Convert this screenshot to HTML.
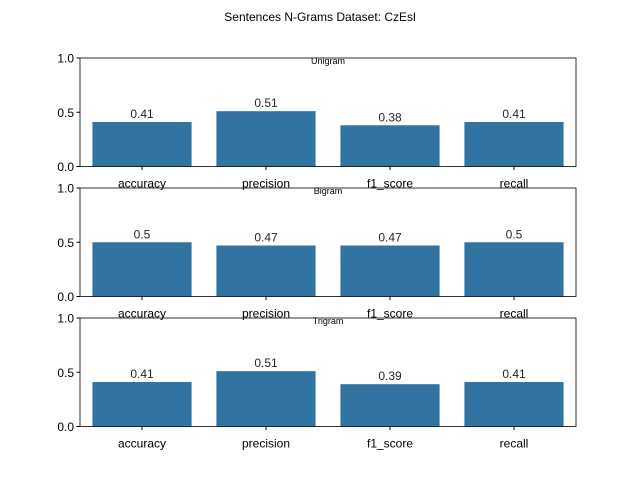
<!DOCTYPE html>
<html><head><meta charset="utf-8">
<style>body{margin:0;background:#fff}svg{display:block;font-family:"Liberation Sans","DejaVu Sans",sans-serif}</style>
</head><body>
<svg id="chart" width="640" height="480">
<text x="320" y="21" text-anchor="middle" font-size="12">Sentences N-Grams Dataset: CzEsl</text>
</svg>
<script>
const categories = ["accuracy","precision","f1_score","recall"];
const panelTitles = ["Unigram","Bigram","Trigram"];
const unigramValues = [0.41,0.51,0.38,0.41];
const bigramValues = [0.5,0.47,0.47,0.5];
const trigramValues = [0.41,0.51,0.39,0.41];
const yTicks = [0,0.5,1];
const yTickLabels = ["0.0","0.5","1.0"];
const series = [unigramValues,bigramValues,trigramValues];
const NS="http://www.w3.org/2000/svg";
const svg=document.getElementById('chart');
function mk(t,a,p){const e=document.createElementNS(NS,t);for(const k in a)e.setAttribute(k,a[k]);(p||svg).appendChild(e);return e;}
const L=80,R=576,tops=[58,188,318],H=108.5;
series.forEach((vals,pi)=>{
  const top=tops[pi],bot=top+H;
  const g=mk('g',{});
  
  
  const y=v=>bot-v*H;
  const slot=(R-L)/categories.length;
  const x=i=>L+slot*(i+0.5);
  vals.forEach((v,i)=>{
    const b=mk('rect',{x:x(i)-slot*0.4,y:y(v),width:slot*0.8,height:bot-y(v),fill:'#3274a1'},g);
    
    
    const t=mk('text',{x:x(i),y:y(v)-4,'text-anchor':'middle','font-size':12,fill:'#262626'},g);
    t.textContent=String(v);
    
    
    mk('line',{x1:x(i),x2:x(i),y1:bot,y2:bot+3.5,stroke:'#000'},g);
    const c=mk('text',{x:x(i),y:bot+21,'text-anchor':'middle','font-size':12},g);
    c.textContent=categories[i];
    
    
  });
  yTicks.forEach((v,i)=>{
    mk('line',{x1:L-3.5,x2:L,y1:y(v),y2:y(v),stroke:'#000'},g);
    const t=mk('text',{x:L-6,y:y(v)+4.5,'text-anchor':'end','font-size':12},g);
    t.textContent=yTickLabels[i];
    
    
  });
  const fr=mk('rect',{x:L,y:top,width:R-L,height:H,fill:'none',stroke:'#000','stroke-width':0.8},g);
  
  
  const ti=mk('text',{x:(L+R)/2,y:top+6,'text-anchor':'middle','font-size':9},g);
  ti.textContent=panelTitles[pi];
  
  
});
</script>
</body></html>
